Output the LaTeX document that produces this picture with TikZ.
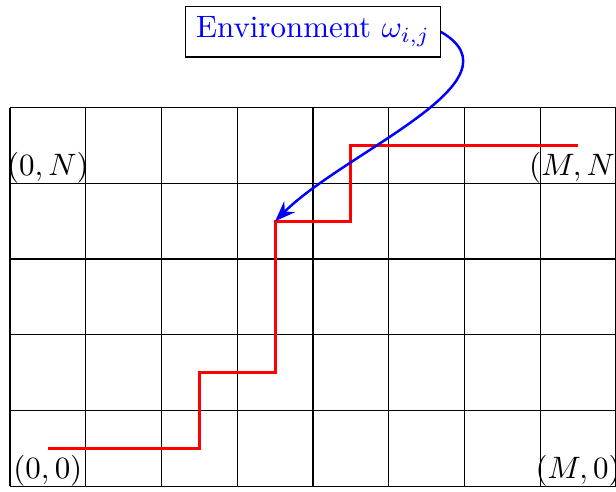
\documentclass[tikz,border=0pt]{standalone}
\usetikzlibrary{arrows.meta, calc, positioning}
\begin{document}
\begin{tikzpicture}[scale=0.86]
    \useasboundingbox (-0.132,-0.066) rectangle (8,6.42);

    % Lattice grid
    \draw[black] (0,0) grid (8,5);

    % Corner labels
    \node (s00) at (0.5,0.2) {$(0,0)$};
    \node (sM0) at (7.5,0.2) {$(M,0)$};
    \node (s0N) at (0.5,4.2) {$(0,N)$};
    \node (sMN) at (7.5,4.2) {$(M,N)$};

    % Up-right path
    \draw[red, line width=1pt] (0.5,0.5) -| (2.5,1.5) -| (3.5,3.5) -| (4.5,4.5) -- (7.5,4.5);
    \coordinate (w) at (3.5,3.5);

    % Environment explanation
    \node[draw, text=blue] (env) at (4,6) {Environment $\omega_{i,j}$};
    \draw[blue, thick, -{Stealth}] (env.east) to[out=-30, in=45] (w);

\end{tikzpicture}
\end{document}
